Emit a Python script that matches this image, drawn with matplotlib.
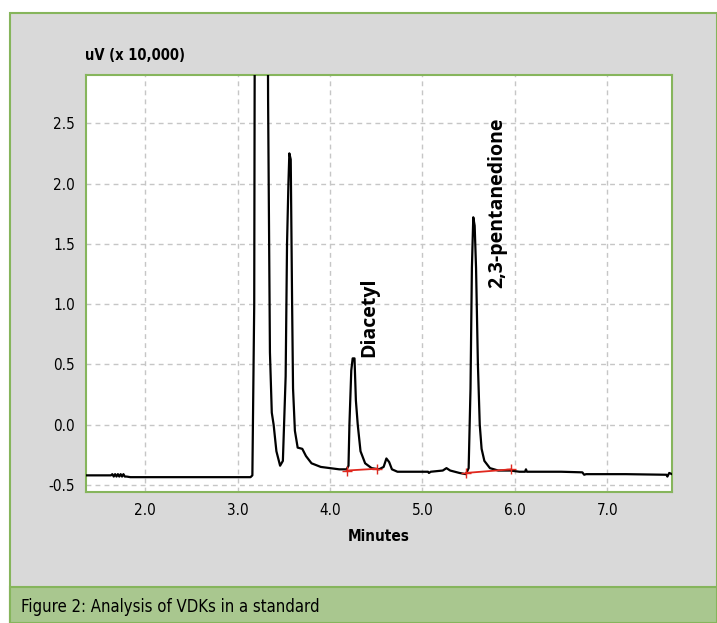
import matplotlib

matplotlib.use("Agg")
import matplotlib.pyplot as plt
from matplotlib.patches import Rectangle

# chromatogram trace (minutes, uV x 10,000)
t = [1.36, 1.63, 1.645, 1.66, 1.675, 1.69, 1.705, 1.72, 1.735, 1.75, 1.765, 1.78, 1.80, 1.84,
     2.5, 3.14, 3.16, 3.18, 3.19, 3.32, 3.33, 3.35, 3.37, 3.39, 3.42, 3.46, 3.49, 3.52,
     3.535, 3.55, 3.56, 3.575, 3.59, 3.60, 3.62, 3.65, 3.70, 3.74, 3.80, 3.90, 4.00,
     4.10, 4.18, 4.20, 4.21, 4.23, 4.245, 4.265, 4.28, 4.30, 4.33, 4.38, 4.45, 4.53,
     4.58, 4.61, 4.64, 4.67, 4.73, 4.90, 5.06, 5.07, 5.09, 5.22, 5.26, 5.30, 5.40,
     5.47, 5.50, 5.52, 5.535, 5.55, 5.565, 5.58, 5.60, 5.62, 5.64, 5.67, 5.73, 5.82,
     5.95, 6.05, 6.11, 6.12, 6.13, 6.50, 6.73, 6.75, 6.77, 7.20, 7.64, 7.65, 7.67, 7.70]
uv = [-0.42, -0.42, -0.41, -0.43, -0.41, -0.43, -0.41, -0.43, -0.41, -0.43, -0.41, -0.43, -0.43, -0.435,
      -0.435, -0.435, -0.42, 1.0, 5.0, 5.0, 2.7, 0.6, 0.1, 0.0, -0.22, -0.34, -0.30, 0.4,
      1.5, 2.0, 2.25, 2.2, 1.0, 0.3, -0.05, -0.19, -0.20, -0.26, -0.32, -0.35, -0.36,
      -0.37, -0.37, -0.34, 0.0, 0.45, 0.55, 0.55, 0.2, 0.0, -0.22, -0.32, -0.36, -0.37,
      -0.35, -0.28, -0.31, -0.37, -0.39, -0.39, -0.39, -0.40, -0.39, -0.38, -0.36, -0.38, -0.40,
      -0.41, -0.36, 0.3, 1.3, 1.72, 1.65, 1.3, 0.5, 0.0, -0.2, -0.30, -0.36, -0.38,
      -0.38, -0.39, -0.39, -0.37, -0.39, -0.39, -0.395, -0.415, -0.41, -0.41, -0.415, -0.43, -0.40, -0.41]

# integration baselines (red)
diacetyl_t = [4.18, 4.51]
diacetyl_uv = [-0.38, -0.365]
pentane_t = [5.47, 5.96]
pentane_uv = [-0.40, -0.37]

xticks = [2.0, 3.0, 4.0, 5.0, 6.0, 7.0]
yticks = [-0.5, 0.0, 0.5, 1.0, 1.5, 2.0, 2.5]

GREY = "#d9d9d9"
GREEN = "#86b55c"
BAND = "#a9c78f"

plt.rcParams["font.family"] = "DejaVu Sans"
plt.rcParams["font.stretch"] = "condensed"

fig = plt.figure(figsize=(7.17, 6.23), dpi=100)
fig.patch.set_facecolor("white")

W, H = 717, 623
# grey panel + caption band
fig.patches.append(Rectangle((10 / W, 0), (W - 10) / W, (H - 13) / H,
                             transform=fig.transFigure, facecolor=GREY,
                             edgecolor=GREEN, lw=1.5, zorder=0))
fig.patches.append(Rectangle((10 / W, 0), (W - 10) / W, (H - 587) / H,
                             transform=fig.transFigure, facecolor=BAND,
                             edgecolor=GREEN, lw=1.5, zorder=1))

ax = fig.add_axes([86 / W, 131 / H, 586 / W, 417 / H])
ax.set_zorder(5)
ax.set_facecolor("white")
ax.plot(t, uv, color="black", lw=1.6, zorder=3)
ax.plot(diacetyl_t, diacetyl_uv, color="#e0281e", lw=1.3, marker="+", ms=7, zorder=4)
ax.plot(pentane_t, pentane_uv, color="#e0281e", lw=1.3, marker="+", ms=7, zorder=4)

ax.set_xlim(1.36, 7.70)
ax.set_ylim(-0.558, 2.9)
ax.set_xticks(xticks)
ax.set_yticks(yticks)
ax.set_xticklabels([f"{v:.1f}" for v in xticks])
ax.set_yticklabels([f"{v:.1f}" for v in yticks])
ax.tick_params(length=0, labelsize=11, pad=8)
ax.grid(True, color="#c6c6c6", ls=(0, (3.5, 3)), lw=1.0)
for s in ax.spines.values():
    s.set_color(GREEN)
    s.set_linewidth(1.5)

ax.set_xlabel("Minutes", fontsize=11, fontweight="bold", labelpad=8)
fig.text(85 / W, 1 - 55 / H, "uV (x 10,000)", fontsize=10.5, fontweight="bold",
         va="center", ha="left", zorder=6)

ax.text(4.42, 0.56, "Diacetyl", rotation=90, ha="center", va="bottom",
        fontsize=14, fontweight="bold", family="Open Sans")
ax.text(5.81, 1.13, "2,3-pentanedione", rotation=90, ha="center", va="bottom",
        fontsize=14, fontweight="bold", family="Open Sans")

fig.text(21 / W, 1 - 607 / H, "Figure 2: Analysis of VDKs in a standard",
         fontsize=12, va="center", ha="left", zorder=6)

fig.savefig("out.png", dpi=100)
